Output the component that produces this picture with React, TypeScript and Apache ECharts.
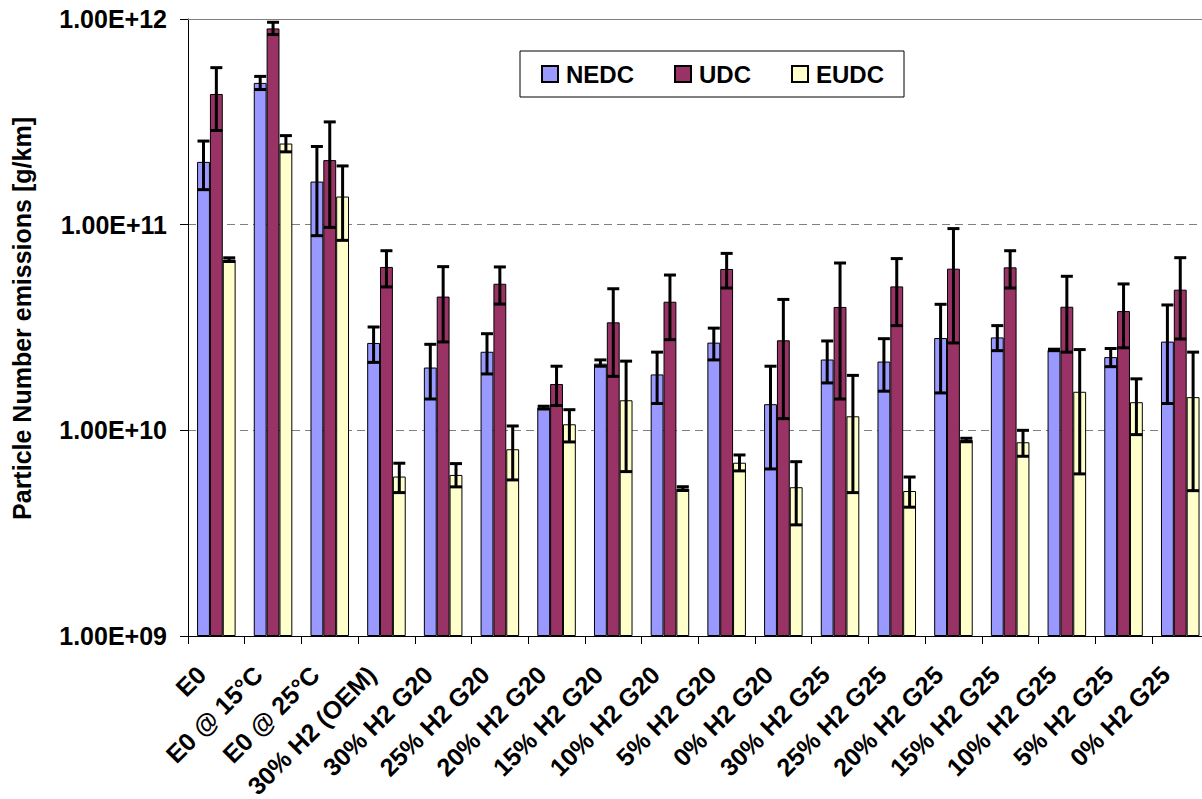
import React, { useEffect, useRef } from "react";
import * as echarts from "echarts";

// Test conditions along the x axis
const categories: string[] = [
  "E0",
  "E0 @ 15°C",
  "E0 @ 25°C",
  "30% H2 (OEM)",
  "30% H2 G20",
  "25% H2 G20",
  "20% H2 G20",
  "15% H2 G20",
  "10% H2 G20",
  "5% H2 G20",
  "0% H2 G20",
  "30% H2 G25",
  "25% H2 G25",
  "20% H2 G25",
  "15% H2 G25",
  "10% H2 G25",
  "5% H2 G25",
  "0% H2 G25",
];

// Particle number emissions per cycle [#/km]
const nedc: number[] = [
  2.02e11, 4.89e11, 1.62e11, 2.66e10, 2.02e10, 2.41e10, 1.29e10, 2.11e10, 1.87e10,
  2.67e10, 1.34e10, 2.21e10, 2.16e10, 2.81e10, 2.83e10, 2.46e10, 2.27e10, 2.7e10,
];
const nedcHigh: number[] = [
  2.55e11, 5.26e11, 2.4e11, 3.18e10, 2.62e10, 2.95e10, 1.31e10, 2.2e10, 2.4e10,
  3.14e10, 2.05e10, 2.72e10, 2.79e10, 4.1e10, 3.23e10, 2.48e10, 2.5e10, 4.07e10,
];
const nedcLow: number[] = [
  1.48e11, 4.54e11, 8.84e10, 2.14e10, 1.42e10, 1.88e10, 1.27e10, 2.05e10, 1.35e10,
  2.2e10, 6.49e9, 1.7e10, 1.55e10, 1.52e10, 2.44e10, 2.44e10, 2.04e10, 1.35e10,
];

const udc: number[] = [
  4.32e11, 9.0e11, 2.06e11, 6.23e10, 4.47e10, 5.16e10, 1.68e10, 3.35e10, 4.22e10,
  6.09e10, 2.74e10, 3.98e10, 5.01e10, 6.11e10, 6.2e10, 3.99e10, 3.8e10, 4.83e10,
];
const udcHigh: number[] = [
  5.8e11, 9.64e11, 3.16e11, 7.47e10, 6.25e10, 6.23e10, 2.05e10, 4.88e10, 5.69e10,
  7.25e10, 4.33e10, 6.51e10, 6.84e10, 9.57e10, 7.47e10, 5.61e10, 5.15e10, 6.91e10,
];
const udcLow: number[] = [
  2.87e11, 8.4e11, 9.7e10, 4.98e10, 2.69e10, 4.11e10, 1.32e10, 1.83e10, 2.76e10,
  4.92e10, 1.14e10, 1.42e10, 3.23e10, 2.66e10, 4.92e10, 2.4e10, 2.52e10, 2.78e10,
];

const eudc: number[] = [
  6.76e10, 2.48e11, 1.37e11, 5.96e9, 6.07e9, 8.09e9, 1.07e10, 1.4e10, 5.21e9,
  6.96e9, 5.29e9, 1.17e10, 5.07e9, 8.98e9, 8.75e9, 1.54e10, 1.37e10, 1.45e10,
];
const eudcHigh: number[] = [
  6.9e10, 2.71e11, 1.93e11, 6.92e9, 6.89e9, 1.05e10, 1.26e10, 2.17e10, 5.32e9,
  7.59e9, 7.04e9, 1.85e10, 5.93e9, 9.15e9, 1.0e10, 2.47e10, 1.78e10, 2.4e10,
];
const eudcLow: number[] = [
  6.62e10, 2.26e11, 8.39e10, 4.98e9, 5.31e9, 5.74e9, 8.78e9, 6.3e9, 5.1e9,
  6.35e9, 3.47e9, 4.98e9, 4.23e9, 8.8e9, 7.48e9, 6.14e9, 9.53e9, 5.09e9,
];

const yMin = 1e9;
const yMax = 1e12;

const FONT = "'Liberation Sans', Arial, Helvetica, sans-serif";
const BAR_CATEGORY_GAP = 0.32;

function formatSci(v: number): string {
  const e = Math.round(Math.log10(v));
  return "1.00E+" + String(e).padStart(2, "0");
}

function errorSeries(low: number[], high: number[], slot: number) {
  return {
    type: "custom",
    name: "err" + slot,
    silent: true,
    z: 10,
    clip: false,
    data: low.map((l, i) => [i, l, high[i]]),
    encode: { x: 0, y: [1, 2] },
    renderItem: (_params: any, api: any) => {
      const idx = api.value(0);
      const hiVal = api.value(2);
      const loVal = api.value(1);
      const pHi = api.coord([idx, hiVal]);
      const pLo = api.coord([idx, loVal]);
      const band = api.coord([1, hiVal])[0] - api.coord([0, hiVal])[0];
      const barW = (band * (1 - BAR_CATEGORY_GAP)) / 3;
      const cx = pHi[0] + (slot - 1) * barW;
      const half = 6;
      const style = { stroke: "#000", lineWidth: 3, fill: "none" };
      return {
        type: "group",
        children: [
          { type: "line", shape: { x1: cx, y1: pHi[1], x2: cx, y2: pLo[1] }, style },
          { type: "line", shape: { x1: cx - half, y1: pHi[1], x2: cx + half, y2: pHi[1] }, style },
          { type: "line", shape: { x1: cx - half, y1: pLo[1], x2: cx + half, y2: pLo[1] }, style },
        ],
      };
    },
  };
}

function barSeries(name: string, data: number[], color: string, withTopLine = false) {
  const s: any = {
    type: "bar",
    name,
    data,
    barGap: "0%",
    barCategoryGap: BAR_CATEGORY_GAP * 100 + "%",
    clip: true,
    itemStyle: { color, borderColor: "#000", borderWidth: 1 },
  };
  if (withTopLine) {
    s.markLine = {
      silent: true,
      symbol: "none",
      label: { show: false },
      lineStyle: { color: "#808080", type: "solid", width: 1 },
      data: [{ yAxis: yMax }],
    };
  }
  return s;
}

export default function App() {
  const ref = useRef<HTMLDivElement>(null);

  useEffect(() => {
    if (!ref.current) return;
    const chart = echarts.init(ref.current, undefined, { renderer: "svg" });
    chart.setOption({
      animation: false,
      backgroundColor: "#fff",
      textStyle: { fontFamily: FONT },
      grid: {
        left: 188,
        top: 19,
        width: 1020.6,
        height: 617,
        containLabel: false,
        outerBoundsMode: "none",
      },
      legend: {
        data: ["NEDC", "UDC", "EUDC"],
        left: 520,
        top: 51,
        orient: "horizontal",
        icon: "rect",
        itemWidth: 16,
        itemHeight: 16,
        itemGap: 40,
        padding: [11, 20, 11, 21],
        borderColor: "#000",
        borderWidth: 1,
        backgroundColor: "#fff",
        textStyle: {
          fontFamily: FONT,
          fontSize: 24,
          fontWeight: "bold",
          color: "#000",
          padding: [0, 0, 0, 3],
          lineHeight: 24,
        },
      },
      xAxis: {
        type: "category",
        data: categories,
        boundaryGap: true,
        axisLine: { show: true, lineStyle: { color: "#000", width: 1 } },
        axisTick: { show: true, length: 8, inside: false, lineStyle: { color: "#000" } },
        axisLabel: {
          interval: 0,
          rotate: 45,
          margin: 19.5,
          padding: [0, 21, 0, 0],
          lineHeight: 20,
          fontFamily: FONT,
          fontSize: 25,
          fontWeight: "bold",
          color: "#000",
        },
        splitLine: { show: false },
      },
      yAxis: {
        type: "log",
        logBase: 10,
        min: yMin,
        max: yMax,
        startValue: yMin,
        name: "Particle Number emissions [g/km]",
        nameLocation: "middle",
        nameGap: 154,
        nameRotate: 90,
        nameTextStyle: {
          fontFamily: FONT,
          fontSize: 25,
          fontWeight: "bold",
          color: "#000",
          padding: [0, 0, 0, 18],
        },
        axisLine: { show: true, lineStyle: { color: "#000", width: 1 } },
        axisTick: { show: true, length: 8, inside: false, lineStyle: { color: "#000" } },
        axisLabel: {
          margin: 21,
          fontFamily: FONT,
          fontSize: 25,
          fontWeight: "bold",
          color: "#000",
          formatter: (v: number) => formatSci(v),
        },
        minorTick: { show: false },
        splitLine: {
          show: true,
          lineStyle: { color: "#808080", type: [8, 5], width: 1 },
        },
      },
      series: [
        barSeries("NEDC", nedc, "#9999FF", true),
        barSeries("UDC", udc, "#993366"),
        barSeries("EUDC", eudc, "#FFFFCC"),
        errorSeries(nedcLow, nedcHigh, 0),
        errorSeries(udcLow, udcHigh, 1),
        errorSeries(eudcLow, eudcHigh, 2),
      ],
    });
    return () => chart.dispose();
  }, []);

  return (
    <div
      ref={ref}
      style={{ position: "absolute", left: 0, top: 0, width: 1202, height: 799, background: "#fff" }}
    />
  );
}
